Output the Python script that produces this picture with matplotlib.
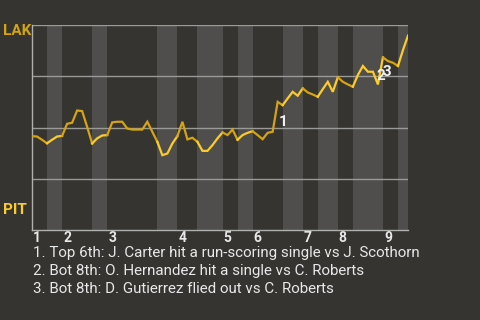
import matplotlib
matplotlib.use('Agg')
import matplotlib.pyplot as plt
import numpy as np

# win probability for LAK after each plate appearance (0 = PIT, 1 = LAK)
wp = [0.458, 0.456, 0.440, 0.423, 0.440, 0.456, 0.459, 0.518, 0.523, 0.583,
      0.580, 0.503, 0.422, 0.447, 0.461, 0.463, 0.525, 0.528, 0.528, 0.495,
      0.490, 0.490, 0.490, 0.528, 0.479, 0.430, 0.365, 0.373, 0.422, 0.458,
      0.528, 0.442, 0.450, 0.430, 0.386, 0.386, 0.414, 0.447, 0.476, 0.463,
      0.490, 0.440, 0.463, 0.474, 0.482, 0.463, 0.443, 0.474, 0.479, 0.625,
      0.609, 0.642, 0.674, 0.655, 0.691, 0.671, 0.661, 0.650, 0.687, 0.723,
      0.674, 0.745, 0.723, 0.710, 0.699, 0.756, 0.800, 0.772, 0.772, 0.710,
      0.842, 0.824, 0.816, 0.800, 0.878, 0.948]

# plate appearances per half inning (top 1, bot 1, top 2, ...)
half_pa = [3, 3, 6, 3, 10, 4, 4, 5, 3, 3, 6, 4, 3, 4, 3, 6, 3, 2]
inning_labels = ['1', '2', '3', '4', '5', '6', '7', '8', '9']

# key events: PA index of the event
event_idx = [49, 69, 70]
event_notes = [
    '1. Top 6th: J. Carter hit a run-scoring single vs J. Scothorn',
    '2. Bot 8th: O. Hernandez hit a single vs C. Roberts',
    '3. Bot 8th: D. Gutierrez flied out vs C. Roberts',
]

bg = '#363430'
band = '#4f4e4c'
top_col = '#d4a414'
bot_col = '#fbcc2a'
txt = '#e8e8e8'

plt.rcParams['font.family'] = ['Roboto', 'DejaVu Sans']

fig = plt.figure(figsize=(4.8, 3.2), dpi=100, facecolor=bg)
ax = fig.add_axes([32/480, 1-230/320, 376/480, 205/320])
ax.set_facecolor(bg)

bounds = np.concatenate([[0], np.cumsum(half_pa)])
x = np.arange(len(wp))

# shade bottom halves
for i in range(len(half_pa)):
    if i % 2 == 1:
        ax.axvspan(bounds[i], bounds[i+1], color=band, lw=0, zorder=0)

for y in [0.25, 0.5, 0.75, 1.0]:
    ax.axhline(y, color='#9a9a98', lw=1, zorder=1)

# line coloured by half inning
for i in range(len(half_pa)):
    a, b = bounds[i], bounds[i+1]
    col = top_col if i % 2 == 0 else bot_col
    ax.plot(x[a:b+1], wp[a:b+1], color=col, lw=1.6, zorder=3,
            solid_joinstyle='miter')

offsets = [(1, 3), (-1, 1), (0, 5)]
for n, (k, off) in enumerate(zip(event_idx, offsets)):
    ax.annotate(str(n+1), (k, min(wp[k-1], wp[k])), xytext=off,
                textcoords='offset pixels', ha='left', va='bottom',
                color='#f0f0f0', fontsize=11, fontweight='bold', zorder=4)

ax.set_xlim(0, len(wp)-1)
ax.set_ylim(0, 1)
ax.set_yticks([])
ax.set_xticks(bounds[:-1:2] + 1)
ax.set_xticklabels(inning_labels, color=txt, fontsize=10, fontweight='bold')
ax.tick_params(axis='x', length=0, pad=1)
for s in ['top', 'right']:
    ax.spines[s].set_visible(False)
for s in ['left', 'bottom']:
    ax.spines[s].set_color('#b0b0ae')
    ax.spines[s].set_linewidth(1)

fig.text(3/480, 1-31.3/320, 'LAK', color=top_col, fontsize=11,
         fontweight='bold', va='center', ha='left')
fig.text(3/480, 1-210.5/320, 'PIT', color=bot_col, fontsize=11,
         fontweight='bold', va='center', ha='left')

for i, note in enumerate(event_notes):
    fig.text(33/480, 1-(253.3+18*i)/320, note, color=txt, fontsize=10.9,
             va='center', ha='left')

fig.savefig('out.png', dpi=100, facecolor=bg)
